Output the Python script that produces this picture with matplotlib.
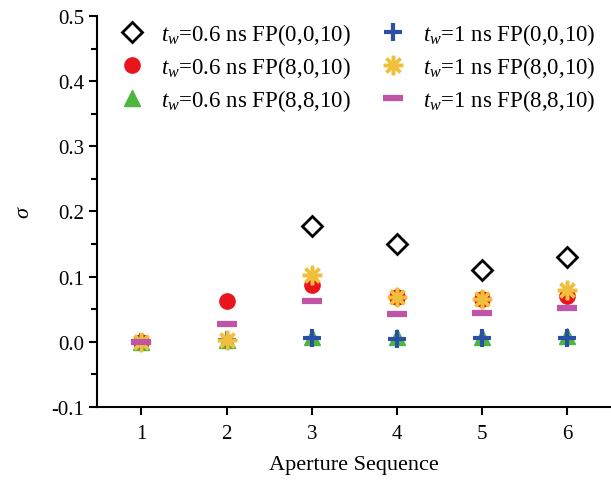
import matplotlib
matplotlib.use('Agg')
import matplotlib.pyplot as plt

plt.rcParams['font.family'] = ['Liberation Serif', 'DejaVu Serif']
plt.rcParams['mathtext.fontset'] = 'custom'
plt.rcParams['mathtext.rm'] = 'Liberation Serif'
plt.rcParams['mathtext.it'] = 'Liberation Serif:italic'

nan = float('nan')

# data (no diamond visible at 1 and 2)
seq = [1, 2, 3, 4, 5, 6]
fp000_06 = [nan, nan, 0.177, 0.150, 0.110, 0.130]
fp8010_06 = [0.0, 0.062, 0.087, 0.068, 0.065, 0.070]
fp8810_06 = [0.0, 0.003, 0.008, 0.007, 0.008, 0.009]
fp000_1 = [0.0, 0.002, 0.005, 0.004, 0.005, 0.005]
fp8010_1 = [0.0, 0.002, 0.103, 0.068, 0.066, 0.080]
fp8810_1 = [0.0, 0.027, 0.062, 0.042, 0.044, 0.052]

fig = plt.figure(figsize=(6.11, 4.85), dpi=100)
ax = fig.add_axes([0.159, 0.159, 0.839, 0.806])

ax.plot(seq, fp000_06, ls='none', marker='D', ms=10, mfc='none', mec='black', mew=2,
        label=r'$t_w$=0.6 ns FP(0,0,10)')
ax.plot(seq, fp8010_06, ls='none', marker='o', ms=11, mfc='#e8161c', mec='#e8161c',
        label=r'$t_w$=0.6 ns FP(8,0,10)')
ax.plot(seq, fp8810_06, ls='none', marker='^', ms=11, mfc='#4db63e', mec='#4db63e',
        label=r'$t_w$=0.6 ns FP(8,8,10)')
ax.plot(seq, fp000_1, ls='none', marker='+', ms=13, mec='#2a4fa6', mew=3,
        label=r'$t_w$=1 ns FP(0,0,10)')
ax.plot(seq, fp8010_1, ls='none', marker=(8, 2, 0), ms=14, mec='#f0c03c', mew=2.5,
        label=r'$t_w$=1 ns FP(8,0,10)')
ax.plot(seq, fp8810_1, ls='none', marker='_', ms=15, mec='#c054a6', mew=4.5,
        label=r'$t_w$=1 ns FP(8,8,10)')

ax.set_xlim(0.48, 6.5)
ax.set_ylim(-0.1, 0.5)
ax.set_xticks(seq)
ax.set_yticks([-0.1, 0.0, 0.1, 0.2, 0.3, 0.4, 0.5])
ax.set_yticklabels(['-0.1', '0.0', '0.1', '0.2', '0.3', '0.4', '0.5'])
ax.set_yticks([-0.05, 0.05, 0.15, 0.25, 0.35, 0.45], minor=True)
ax.tick_params(axis='both', direction='out', labelsize=15, width=1.5, length=6)
ax.tick_params(axis='x', pad=6)
ax.tick_params(axis='y', which='minor', direction='out', width=1.5, length=4)
ax.spines['top'].set_visible(False)
ax.spines['right'].set_visible(False)
ax.spines['left'].set_linewidth(1.5)
ax.spines['bottom'].set_linewidth(1.5)

ax.set_xlabel('Aperture Sequence', fontsize=16, labelpad=9)
ax.set_ylabel(r'$\sigma$', fontsize=16, labelpad=12)

ax.legend(loc='upper left', ncol=2, frameon=False, fontsize=16.5, handlelength=1.2,
          handletextpad=0.7, columnspacing=1.25, labelspacing=0.3,
          bbox_to_anchor=(0.0, 1.04))

fig.savefig('out.png', dpi=100)
